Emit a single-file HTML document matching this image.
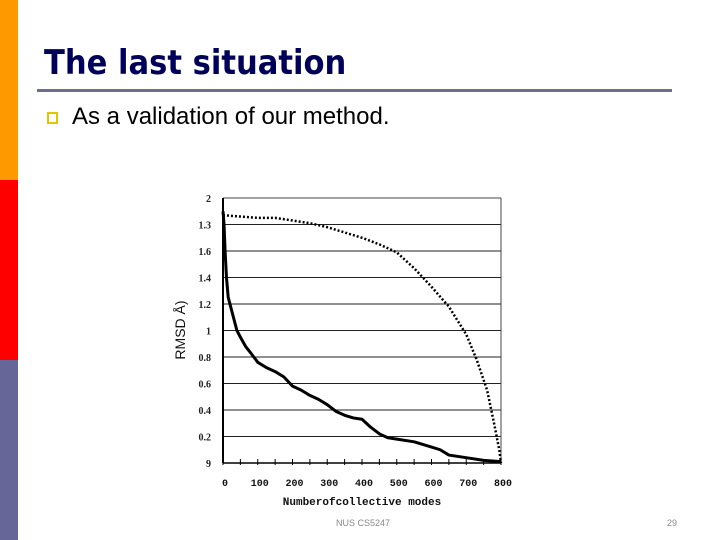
<!DOCTYPE html>
<html><head><meta charset="utf-8"><style>
body{margin:0;width:720px;height:540px;background:#fff;position:relative;overflow:hidden;font-family:"Liberation Sans",sans-serif}
.bar{position:absolute;left:0;width:18px}
</style></head><body>
<div class="bar" style="top:0;height:180px;background:#f90"></div>
<div class="bar" style="top:180px;height:180px;background:#f00"></div>
<div class="bar" style="top:360px;height:180px;background:#669"></div>
<div style="position:absolute;left:44px;top:43px;font:bold 34px 'DejaVu Sans Condensed','Liberation Sans',sans-serif;color:#00005a">The last situation</div>
<div style="position:absolute;left:37px;top:89px;width:635px;height:3px;background:#6d6d8f"></div>
<div style="position:absolute;left:47px;top:112px;width:7px;height:8px;border:2px solid #e8c400;background:#fff"></div>
<div style="position:absolute;left:72px;top:103px;font-size:24px;color:#000">As a validation of our method.</div>
<div style="position:absolute;left:336px;top:518px;font-size:9px;color:#888">NUS CS5247</div>
<div style="position:absolute;left:667px;top:518px;font-size:9px;color:#888">29</div>
<svg id="chart" width="720" height="540" style="position:absolute;left:0;top:0"></svg>
<script>
const yTicks=[0,0.2,0.4,0.6,0.8,1,1.2,1.4,1.6,1.8,2];
const yTickLabels=["9","0.2","0.4","0.6","0.8","1","1.2","1.4","1.6","1.3","2"];
const xTicks=[0,100,200,300,400,500,600,700,800];
const solidX=[0,3,6,10,15,20,30,40,50,65,80,100,125,150,175,200,225,250,275,300,325,350,375,400,425,450,475,500,550,600,625,650,700,750,800];
const solidY=[1.9,1.8,1.6,1.4,1.25,1.2,1.1,1.0,0.95,0.88,0.83,0.76,0.72,0.69,0.65,0.58,0.55,0.51,0.48,0.44,0.39,0.36,0.34,0.33,0.27,0.22,0.19,0.18,0.16,0.12,0.10,0.06,0.04,0.02,0.01];
const dotX=[0,50,100,150,200,250,300,350,400,450,500,550,600,650,700,730,760,780,795,800];
const dotY=[1.87,1.86,1.85,1.85,1.83,1.81,1.78,1.74,1.70,1.65,1.59,1.47,1.33,1.18,0.97,0.78,0.55,0.3,0.1,0.0];
const X=v=>223+v*(501-223)/800, Y=v=>463-v*(463-198)/2;
const svgEl=document.getElementById('chart'),ns='http://www.w3.org/2000/svg';
function mk(t,a){const e=document.createElementNS(ns,t);for(const k in a)e.setAttribute(k,a[k]);svgEl.appendChild(e);return e;}
yTicks.forEach((v,i)=>{
 if(v>0&&v<2){const g=mk('line',{x1:X(0),x2:X(800),y1:Y(v),y2:Y(v),stroke:'#222','stroke-width':1});
 
 }
 const t=mk('text',{x:211,y:Y(v)+4,'text-anchor':'end','font-size':10,'font-family':'Liberation Serif','font-weight':'bold',fill:'#222'});
 t.textContent=yTickLabels[i];
 
 
});
const topBorder=mk('line',{x1:X(0),x2:X(800),y1:Y(2),y2:Y(2),stroke:'#444'});


const ax=mk('line',{x1:X(0),x2:X(0),y1:Y(2),y2:Y(0),stroke:'#000','stroke-width':2});


const rx=mk('line',{x1:X(800),x2:X(800),y1:Y(2),y2:Y(0),stroke:'#444'});


const xa=mk('line',{x1:X(0),x2:X(800),y1:Y(0),y2:Y(0),stroke:'#000','stroke-width':1.5});


for(let v=0;v<=800;v+=50){const tk=mk('line',{x1:X(v),x2:X(v),y1:Y(0)-4,y2:Y(0)+2,stroke:'#000'});

}
xTicks.forEach(v=>{const t=mk('text',{x:X(v)+2,y:486,'text-anchor':'middle','font-size':10,'font-family':'Liberation Mono','font-weight':'bold',fill:'#111'});
t.textContent=v;

});
const xt=mk('text',{x:362,y:505,'text-anchor':'middle','font-size':11,'font-family':'Liberation Mono','font-weight':'bold',fill:'#111'});
xt.textContent='Numberofcollective modes';


const yt=mk('text',{x:0,y:0,'text-anchor':'middle','font-size':14,fill:'#111',transform:'translate(185,330) rotate(-90)'});
yt.textContent='RMSD Å)';


const p1=mk('polyline',{points:solidX.map((x,i)=>X(x)+','+Y(solidY[i])).join(' '),fill:'none',stroke:'#000','stroke-width':3,'stroke-linejoin':'round'});


const p2=mk('polyline',{points:dotX.map((x,i)=>X(x)+','+Y(dotY[i])).join(' '),fill:'none',stroke:'#000','stroke-width':2.5,'stroke-dasharray':'2 2'});


</script>
</body></html>
